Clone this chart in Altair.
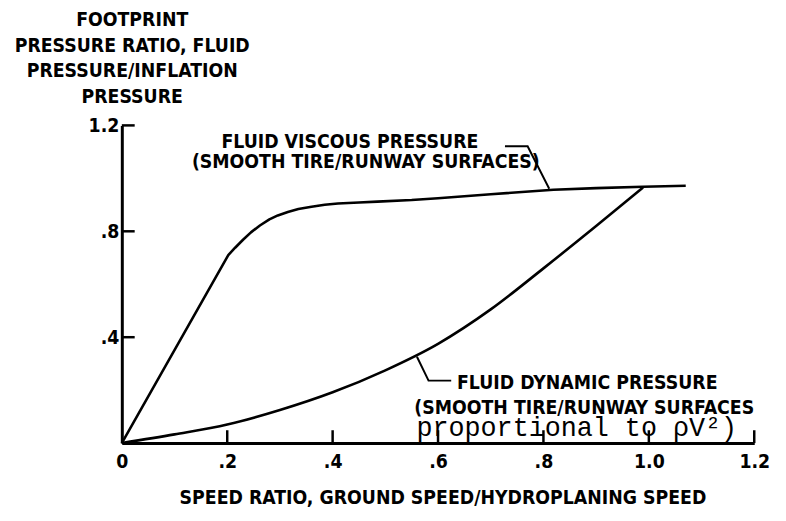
import altair as alt
import pandas as pd

# ---- data ----
visc_x = [0.0, 0.202, 0.215, 0.230, 0.245, 0.262, 0.280, 0.296, 0.315, 0.335, 0.360, 0.385, 0.41,
          0.45, 0.485, 0.55, 0.60, 0.70, 0.819, 0.90, 0.989, 1.07]
visc_y = [0.0, 0.71, 0.738, 0.768, 0.796, 0.822, 0.845, 0.86, 0.873, 0.884, 0.893, 0.900, 0.905,
          0.909, 0.912, 0.918, 0.925, 0.94, 0.957, 0.963, 0.968, 0.972]

dyn_x = [0.0, 0.1, 0.2, 0.3, 0.4, 0.5, 0.6, 0.7, 0.8, 0.9, 0.989]
dyn_y = [0.0, 0.033, 0.07, 0.125, 0.192, 0.275, 0.375, 0.505, 0.66, 0.82, 0.965]

x_label_vals = [0.0, 0.2, 0.4, 0.6, 0.8, 1.0, 1.2]
x_tick_vals = [0.2, 0.4, 0.6, 0.8, 1.0, 1.2]
y_tick_vals = [0.4, 0.8, 1.2]

y_title = ["FOOTPRINT", "PRESSURE RATIO, FLUID", "PRESSURE/INFLATION", "PRESSURE"]
x_title = "SPEED RATIO, GROUND SPEED/HYDROPLANING SPEED"

ann_text = ["FLUID VISCOUS PRESSURE", "(SMOOTH TIRE/RUNWAY SURFACES)",
            "FLUID DYNAMIC PRESSURE", "(SMOOTH TIRE/RUNWAY SURFACES"]
ann_x = [0.189, 0.133, 0.636, 0.555]
ann_y = [1.138, 1.060, 0.226, 0.131]

mono_text = ["proportional to ρV²)"]
mono_x = [0.559]
mono_y = [0.028]

leader_group = ["v", "v", "v", "d", "d", "d"]
leader_x = [0.727, 0.770, 0.811, 0.560, 0.582, 0.625]
leader_y = [1.121, 1.121, 0.961, 0.326, 0.236, 0.236]

FONT = "Liberation Sans Narrow, DejaVu Sans Condensed, Arial Narrow, sans-serif"
MONO = "Liberation Mono, Courier New, DejaVu Sans Mono, monospace"
FS = 19.5

visc = pd.DataFrame({"x": visc_x, "y": visc_y})
dyn = pd.DataFrame({"x": dyn_x, "y": dyn_y})
ann = pd.DataFrame({"x": ann_x, "y": ann_y, "t": ann_text})
mono = pd.DataFrame({"x": mono_x, "y": mono_y, "t": mono_text})
leaders = pd.DataFrame({"x": leader_x, "y": leader_y, "g": leader_group})
xticks = pd.DataFrame({"x": x_tick_vals})
yticks = pd.DataFrame({"y": y_tick_vals})

xs = alt.Scale(domain=[0, 1.2], nice=False, zero=False)
ys = alt.Scale(domain=[0, 1.2], nice=False, zero=False)

lab_expr = ("datum.value == 0 ? '0' : (datum.value < 1 ? "
            "replace(format(datum.value, '.1f'), '0.', '.') : format(datum.value, '.1f'))")

x_axis = alt.Axis(
    values=x_label_vals, labelExpr=lab_expr, tickSize=0, ticks=False, grid=False,
    domainColor="black", domainWidth=3, labelPadding=10,
    labelFont=FONT, labelFontSize=FS, labelFontWeight="bold", labelColor="black",
    labelBaseline="top", labelFlush=False, labelOverlap=False,
    title=x_title, titleFont=FONT, titleFontSize=FS, titleFontWeight="bold",
    titleColor="black", titleBaseline="middle", titleY=55, titleX=324,
)
y_axis = alt.Axis(
    values=y_tick_vals, labelExpr=lab_expr, tickSize=0, ticks=False, grid=False,
    domainColor="black", domainWidth=3, labelPadding=3,
    labelFont=FONT, labelFontSize=FS, labelFontWeight="bold", labelColor="black",
    labelFlush=False, labelOverlap=False,
    title=y_title, titleFont=FONT, titleFontSize=FS, titleFontWeight="bold",
    titleColor="black", titleAngle=0, titleAlign="center", titleBaseline="top",
    titleX=10, titleY=-116, titleLineHeight=26,
)

X = alt.X("x:Q", scale=xs, axis=x_axis)
Y = alt.Y("y:Q", scale=ys, axis=y_axis)

visc_line = alt.Chart(visc).mark_line(color="black", strokeWidth=2.6, strokeJoin="round").encode(
    x=X, y=Y,
)
dyn_line = alt.Chart(dyn).mark_line(color="black", strokeWidth=2.6, interpolate="monotone").encode(
    x=X, y=Y,
)

xt = alt.Chart(xticks).mark_rule(color="black", strokeWidth=2.5).encode(
    x=X, y=alt.value(321), y2=alt.value(308),
)
yt = alt.Chart(yticks).mark_rule(color="black", strokeWidth=2.5).encode(
    y=Y, x=alt.value(0), x2=alt.value(13),
)

lead = alt.Chart(leaders).mark_line(color="black", strokeWidth=2).encode(
    x=X, y=Y, detail="g:N",
)

txt = alt.Chart(ann).mark_text(
    font=FONT, fontSize=FS, fontWeight="bold", color="black", align="left", baseline="middle"
).encode(x=X, y=Y, text="t:N")

mtxt = alt.Chart(mono).mark_text(
    font=MONO, fontSize=27, color="black", align="left", baseline="alphabetic"
).encode(x=X, y=Y, text="t:N")

chart = alt.layer(visc_line, dyn_line, xt, yt, lead, txt, mtxt).properties(
    width=639, height=321,
    autosize=alt.AutoSizeParams(type="none"),
    padding={"left": 115, "top": 116, "right": 24, "bottom": 68},
    background="white",
).configure_view(stroke=None)

chart.save("out.html", embed_options={"renderer": "svg", "actions": False})
